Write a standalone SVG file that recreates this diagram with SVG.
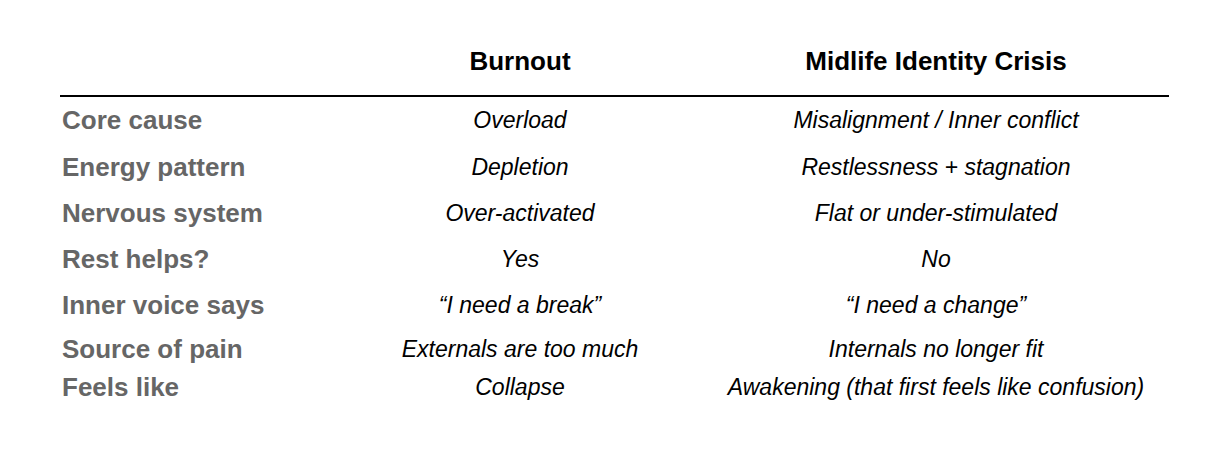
<svg xmlns="http://www.w3.org/2000/svg" width="1210" height="457" viewBox="0 0 1210 457">
<style>
text{font-family:"Liberation Sans",Arial,sans-serif}
.h{font-size:26px;font-weight:bold;fill:#000;text-anchor:middle}
.l{font-size:26px;font-weight:bold;fill:#666}
.c{font-size:23px;font-style:italic;fill:#000;text-anchor:middle}
</style>
<rect width="1210" height="457" fill="#fff"/>
<text class="h" x="520" y="70">Burnout</text>
<text class="h" x="936" y="70">Midlife Identity Crisis</text>
<line x1="60" y1="96" x2="1169" y2="96" stroke="#000" stroke-width="2"/>
<g>
<text class="l" x="62" y="129">Core cause</text>
<text class="c" x="520" y="128">Overload</text>
<text class="c" x="936" y="128">Misalignment / Inner conflict</text>
<text class="l" x="62" y="176">Energy pattern</text>
<text class="c" x="520" y="175">Depletion</text>
<text class="c" x="936" y="175">Restlessness + stagnation</text>
<text class="l" x="62" y="222">Nervous system</text>
<text class="c" x="520" y="221">Over-activated</text>
<text class="c" x="936" y="221">Flat or under-stimulated</text>
<text class="l" x="62" y="268">Rest helps?</text>
<text class="c" x="520" y="267">Yes</text>
<text class="c" x="936" y="267">No</text>
<text class="l" x="62" y="314">Inner voice says</text>
<text class="c" x="520" y="313">“I need a break”</text>
<text class="c" x="936" y="313">“I need a change”</text>
<text class="l" x="62" y="358">Source of pain</text>
<text class="c" x="520" y="357">Externals are too much</text>
<text class="c" x="936" y="357">Internals no longer fit</text>
<text class="l" x="62" y="396">Feels like</text>
<text class="c" x="520" y="395">Collapse</text>
<text class="c" x="936" y="395">Awakening (that first feels like confusion)</text>
</g>
</svg>
